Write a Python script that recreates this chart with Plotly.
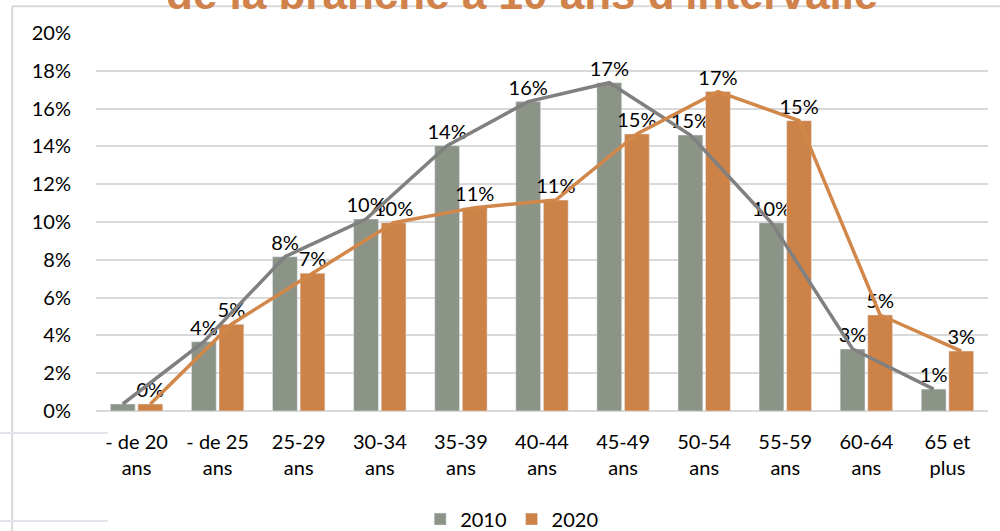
import plotly.graph_objects as go

categories = ["- de 20<br>ans", "- de 25<br>ans", "25-29<br>ans", "30-34<br>ans", "35-39<br>ans",
              "40-44<br>ans", "45-49<br>ans", "50-54<br>ans", "55-59<br>ans", "60-64<br>ans", "65 et<br>plus"]
v2010 = [0.37, 3.67, 8.16, 10.16, 14.04, 16.37, 17.37, 14.6, 9.96, 3.28, 1.16]
v2020 = [0.37, 4.59, 7.29, 9.96, 10.76, 11.16, 14.66, 16.9, 15.36, 5.08, 3.17]
ytick_vals = [0, 2, 4, 6, 8, 10, 12, 14, 16, 18, 20]
title_text = "de la branche à 10 ans d'intervalle"

GRAY = "#8c9487"
ORANGE = "#cd8247"
LGRAY = "#808080"
LORANGE = "#d2874a"
FONT = "Lato"
FS = 20

idx = list(range(len(categories)))
bargap = 0.32
groupgap = 0.1
slot = (1 - bargap) / 2
off = slot / 2

lab2010 = [f"{round(v)}%" for v in v2010]
lab2020 = [f"{round(v)}%" for v in v2020]
lab2010[0] = ""

fig = go.Figure()
fig.add_trace(go.Bar(x=idx, y=v2010, name="2010", marker_color=GRAY,
                     text=lab2010, textposition="outside", cliponaxis=False, constraintext="none",
                     textfont=dict(size=FS, color="#000000", family=FONT)))
fig.add_trace(go.Bar(x=idx, y=v2020, name="2020", marker_color=ORANGE,
                     text=lab2020, textposition="outside", cliponaxis=False, constraintext="none",
                     textfont=dict(size=FS, color="#000000", family=FONT)))
fig.add_trace(go.Scatter(x=[i - off for i in idx], y=v2010, mode="lines",
                         line=dict(color=LGRAY, width=3.5), showlegend=False, hoverinfo="skip",
                         cliponaxis=False))
fig.add_trace(go.Scatter(x=[i + off for i in idx], y=v2020, mode="lines",
                         line=dict(color=LORANGE, width=3.5), showlegend=False, hoverinfo="skip",
                         cliponaxis=False))

fig.update_layout(
    width=1000, height=531,
    margin=dict(l=96, r=12, t=33, b=120, autoexpand=False),
    paper_bgcolor="white", plot_bgcolor="white",
    barmode="group", bargap=bargap, bargroupgap=groupgap,
    font=dict(family=FONT, size=FS, color="#000000"),
    showlegend=True,
    legend=dict(orientation="h", x=0.466, xanchor="center", y=-0.286, yanchor="middle",
                font=dict(size=FS, family=FONT), itemwidth=30, traceorder="normal"),
    xaxis=dict(range=[-0.5, len(categories) - 0.5], tickmode="array", tickvals=idx,
               ticktext=categories, showgrid=False, zeroline=False, showline=False,
               ticks="outside", ticklen=13, tickcolor="rgba(0,0,0,0)", automargin=False,
               tickfont=dict(size=FS, family=FONT)),
    yaxis=dict(range=[0, 20], tickmode="array", tickvals=ytick_vals,
               ticktext=[f"{v}%" for v in ytick_vals], showgrid=True,
               gridcolor="#d9d9d9", gridwidth=2, zeroline=True, zerolinecolor="#d9d9d9",
               zerolinewidth=2, showline=False, ticks="outside", ticklen=20, automargin=False,
               tickcolor="rgba(0,0,0,0)", tickfont=dict(size=FS, family=FONT)),
    annotations=[dict(text=title_text, xref="paper", yref="paper", x=0.478, y=1.034,
                      xanchor="center", yanchor="bottom", showarrow=False,
                      font=dict(family="Liberation Sans", size=44, color="#d0824a", weight="bold"))],
    shapes=[
        dict(type="line", xref="paper", yref="paper", x0=-0.094, x1=1.02, y0=1.071, y1=1.071,
             line=dict(color="#d9d9d9", width=2), layer="below"),
        dict(type="line", xref="paper", yref="paper", x0=-0.094, x1=-0.094, y0=1.071, y1=-0.32,
             line=dict(color="#d9d9d9", width=2), layer="below"),
        dict(type="line", xref="paper", yref="paper", x0=-0.12, x1=0.013, y0=-0.058, y1=-0.058,
             line=dict(color="#e6e0ec", width=2), layer="below"),
        dict(type="line", xref="paper", yref="paper", x0=-0.12, x1=0.013, y0=-0.291, y1=-0.291,
             line=dict(color="#e6e0ec", width=2), layer="below"),
    ],
)

fig.write_html("out.html", config={"displayModeBar": False},
               post_script="document.body.style.margin='0';")
